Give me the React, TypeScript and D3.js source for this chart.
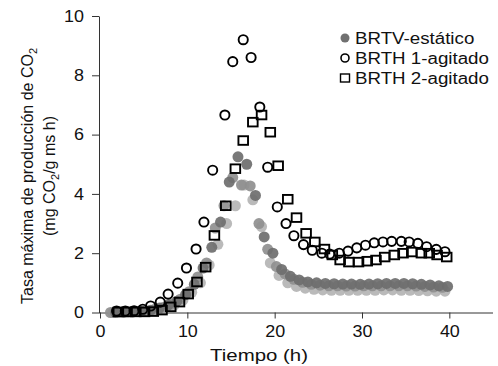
import { useEffect, useRef } from 'react';
import * as d3 from 'd3';

// BRTV-estático: three replicates (dark, mid, light gray)
const brtvA_t = [1.8, 2.8, 3.8, 4.8, 5.8, 6.8, 7.8, 8.8, 9.8, 10.8, 11.8, 12.8, 13.8, 14.8, 15.8, 16.8, 17.8, 18.8, 19.8, 20.8, 21.8, 22.8, 23.8, 24.8, 25.8, 26.8, 27.8, 28.8, 29.8, 30.8, 31.8, 32.8, 33.8, 34.8, 35.8, 36.8, 37.8, 38.8, 39.8];
const brtvA_v = [0.0, 0.01, 0.02, 0.04, 0.08, 0.15, 0.25, 0.38, 0.6, 0.95, 1.5, 2.2, 3.05, 4.4, 5.25, 5.0, 3.95, 2.55, 2.0, 1.45, 1.22, 1.1, 1.03, 1.0, 0.98, 0.97, 0.96, 0.96, 0.95, 0.96, 0.97, 0.98, 0.98, 0.98, 0.97, 0.95, 0.93, 0.9, 0.88];
const brtvB_t = [1.2, 2.2, 3.2, 4.2, 5.2, 6.2, 7.2, 8.2, 9.2, 10.2, 11.2, 12.2, 13.2, 14.2, 15.2, 16.2, 17.2, 18.2, 19.2, 20.2, 21.2, 22.2, 23.2, 24.2, 25.2, 26.2, 27.2, 28.2, 29.2, 30.2, 31.2, 32.2, 33.2, 34.2, 35.2, 36.2, 37.2, 38.2, 39.2];
const brtvB_v = [0.0, 0.01, 0.02, 0.03, 0.05, 0.1, 0.17, 0.28, 0.45, 0.7, 1.2, 1.67, 2.85, 3.6, 4.55, 4.3, 4.27, 3.0, 2.13, 1.55, 1.3, 1.12, 1.02, 0.95, 0.92, 0.9, 0.9, 0.89, 0.89, 0.9, 0.9, 0.9, 0.9, 0.9, 0.9, 0.89, 0.88, 0.86, 0.85];
const brtvC_t = [1.5, 2.5, 3.5, 4.5, 5.5, 6.5, 7.5, 8.5, 9.5, 10.5, 11.5, 12.5, 13.5, 14.5, 15.5, 16.5, 17.5, 18.5, 19.5, 20.5, 21.5, 22.5, 23.5, 24.5, 25.5, 26.5, 27.5, 28.5, 29.5, 30.5, 31.5, 32.5, 33.5, 34.5, 35.5, 36.5, 37.5, 38.5, 39.5];
const brtvC_v = [0.0, 0.01, 0.02, 0.03, 0.05, 0.09, 0.15, 0.25, 0.42, 0.68, 1.0, 1.6, 2.3, 3.0, 3.6, 4.3, 3.8, 2.9, 1.67, 1.25, 1.0, 0.88, 0.82, 0.78, 0.76, 0.75, 0.75, 0.75, 0.75, 0.75, 0.75, 0.76, 0.76, 0.75, 0.75, 0.74, 0.73, 0.72, 0.72];

// BRTH 1-agitado (open circles)
const brth1_t = [1.9, 2.9, 3.9, 4.9, 5.8, 6.9, 7.8, 8.9, 9.9, 11.0, 11.9, 12.9, 14.3, 15.2, 16.4, 17.3, 18.3, 19.2, 20.3, 21.3, 22.2, 23.3, 24.3, 25.4, 26.3, 27.4, 28.4, 29.4, 30.4, 31.4, 32.4, 33.4, 34.5, 35.4, 36.4, 37.4, 38.5, 39.5];
const brth1_v = [0.05, 0.05, 0.06, 0.11, 0.22, 0.35, 0.62, 0.99, 1.5, 2.14, 3.05, 4.8, 6.66, 8.46, 9.2, 8.6, 6.93, 4.9, 3.56, 3.0, 2.59, 2.29, 2.1, 2.0, 1.97, 2.0, 2.07, 2.18, 2.27, 2.35, 2.38, 2.4, 2.4, 2.38, 2.33, 2.22, 2.13, 2.05];

// BRTH 2-agitado (open squares)
const brth2_t = [2.1, 3.1, 4.1, 5.1, 6.1, 7.1, 8.1, 9.1, 10.1, 11.1, 12.1, 13.1, 14.4, 15.5, 16.4, 17.5, 18.5, 19.5, 20.4, 21.5, 22.5, 23.6, 24.6, 25.7, 26.6, 27.5, 28.5, 29.6, 30.6, 31.6, 32.6, 33.7, 34.7, 35.7, 36.8, 37.7, 38.6, 39.7];
const brth2_v = [0.02, 0.02, 0.02, 0.02, 0.03, 0.08, 0.19, 0.35, 0.62, 1.03, 1.53, 2.6, 3.6, 4.85, 5.8, 6.42, 6.66, 6.08, 4.95, 3.82, 3.2, 2.67, 2.38, 2.14, 1.94, 1.77, 1.7, 1.7, 1.73, 1.77, 1.87, 1.94, 2.0, 2.04, 2.0, 2.0, 1.94, 1.87];

const xTicks = [0, 10, 20, 30, 40];
const yTicks = [0, 2, 4, 6, 8, 10];
const legendLabels = ['BRTV-estático', 'BRTH 1-agitado', 'BRTH 2-agitado'];

const FONT = '"Liberation Sans", Arial, sans-serif';

// the reference glyphs are a bit wider than plain Arial
function widen(sel: d3.Selection<any, any, any, any>, k: number) {
  sel.each(function () {
    const el = this as SVGTextElement;
    const len = el.getComputedTextLength();
    if (len > 0) d3.select(el).attr('textLength', len * k).attr('lengthAdjust', 'spacingAndGlyphs');
  });
}

export default function App() {
  const ref = useRef<SVGSVGElement | null>(null);
  useEffect(() => {
    const svg = d3.select(ref.current!);
    svg.selectAll('*').remove();
    const x = d3.scaleLinear().domain([0, 45]).range([100, 493]);
    const y = d3.scaleLinear().domain([0, 10]).range([312.5, 16]);
    const axisColor = '#333';

    // y axis
    const gy = svg.append('g').attr('transform', 'translate(99,0)')
      .call(d3.axisLeft(y).tickValues(yTicks).tickSize(7).tickPadding(8).tickSizeOuter(0));
    gy.select('.domain').attr('stroke', axisColor);
    gy.selectAll('line').attr('stroke', axisColor);
    gy.selectAll('text').attr('font-size', 16).attr('font-family', FONT).attr('fill', '#111');
    widen(gy.selectAll('text'), 1.12);

    // x axis
    const gx = svg.append('g').attr('transform', 'translate(0,312.5)')
      .call(d3.axisBottom(x).tickValues(xTicks).tickSize(6).tickPadding(7).tickSizeOuter(0));
    gx.select('.domain').attr('stroke', axisColor).attr('d', 'M99,0.5H493');
    gx.selectAll('line').attr('stroke', axisColor);
    gx.selectAll('text').attr('font-size', 16).attr('font-family', FONT).attr('fill', '#111');
    widen(gx.selectAll('text'), 1.12);

    const grays: [number[], number[], string][] = [
      [brtvC_t, brtvC_v, '#b4b4b4'],
      [brtvB_t, brtvB_v, '#8f8f8f'],
      [brtvA_t, brtvA_v, '#6e6e6e'],
    ];
    grays.forEach(([ts, vs, c]) => {
      svg.append('g').selectAll('circle').data(ts).enter().append('circle')
        .attr('cx', (t) => x(t)).attr('cy', (_, i) => y(vs[i])).attr('r', 5.5)
        .attr('fill', c).attr('opacity', 0.92);
    });

    svg.append('g').selectAll('circle').data(brth1_t).enter().append('circle')
      .attr('cx', (t) => x(t)).attr('cy', (_, i) => y(brth1_v[i])).attr('r', 4.6)
      .attr('fill', 'none').attr('stroke', '#000').attr('stroke-width', 1.9);

    svg.append('g').selectAll('rect').data(brth2_t).enter().append('rect')
      .attr('x', (t) => x(t) - 4.8).attr('y', (_, i) => y(brth2_v[i]) - 4.3)
      .attr('width', 9.6).attr('height', 8.6)
      .attr('fill', 'none').attr('stroke', '#000').attr('stroke-width', 1.9);

    // legend
    const lg = svg.append('g').attr('font-family', FONT).attr('font-size', 16).attr('fill', '#111');
    const ly = [38, 58, 78];
    lg.append('circle').attr('cx', 345).attr('cy', ly[0]).attr('r', 4.5).attr('fill', '#707070');
    lg.append('circle').attr('cx', 345).attr('cy', ly[1]).attr('r', 4).attr('fill', 'none').attr('stroke', '#000').attr('stroke-width', 1.6);
    lg.append('rect').attr('x', 340.5).attr('y', ly[2] - 4).attr('width', 9).attr('height', 8).attr('fill', 'none').attr('stroke', '#000').attr('stroke-width', 1.4);
    legendLabels.forEach((l, i) => {
      lg.append('text').attr('x', 355).attr('y', ly[i] + 6).text(l);
    });
    widen(lg.selectAll('text'), 1.17);

    // axis titles
    const xt = svg.append('text').attr('x', 259).attr('y', 361).attr('text-anchor', 'middle')
      .attr('font-family', FONT).attr('font-size', 17).attr('fill', '#111').text('Tiempo (h)');
    widen(xt, 1.2);

    const yl = svg.append('text').attr('transform', 'rotate(-90)')
      .attr('text-anchor', 'middle').attr('font-family', FONT).attr('font-size', 16).attr('fill', '#111');
    const t1 = yl.append('tspan').attr('x', -176).attr('y', 33).text('Tasa máxima de producción de CO');
    t1.append('tspan').attr('font-size', 11).attr('dy', 4).text('2');
    const t2 = yl.append('tspan').attr('x', -176).attr('y', 55).text('(mg CO');
    t2.append('tspan').attr('font-size', 11).attr('dy', 4).text('2');
    t2.append('tspan').attr('dy', -4).text('/g ms h)');
  }, []);
  return <svg ref={ref} width={498} height={366} style={{ position: 'absolute', left: 0, top: 0 }} />;
}
